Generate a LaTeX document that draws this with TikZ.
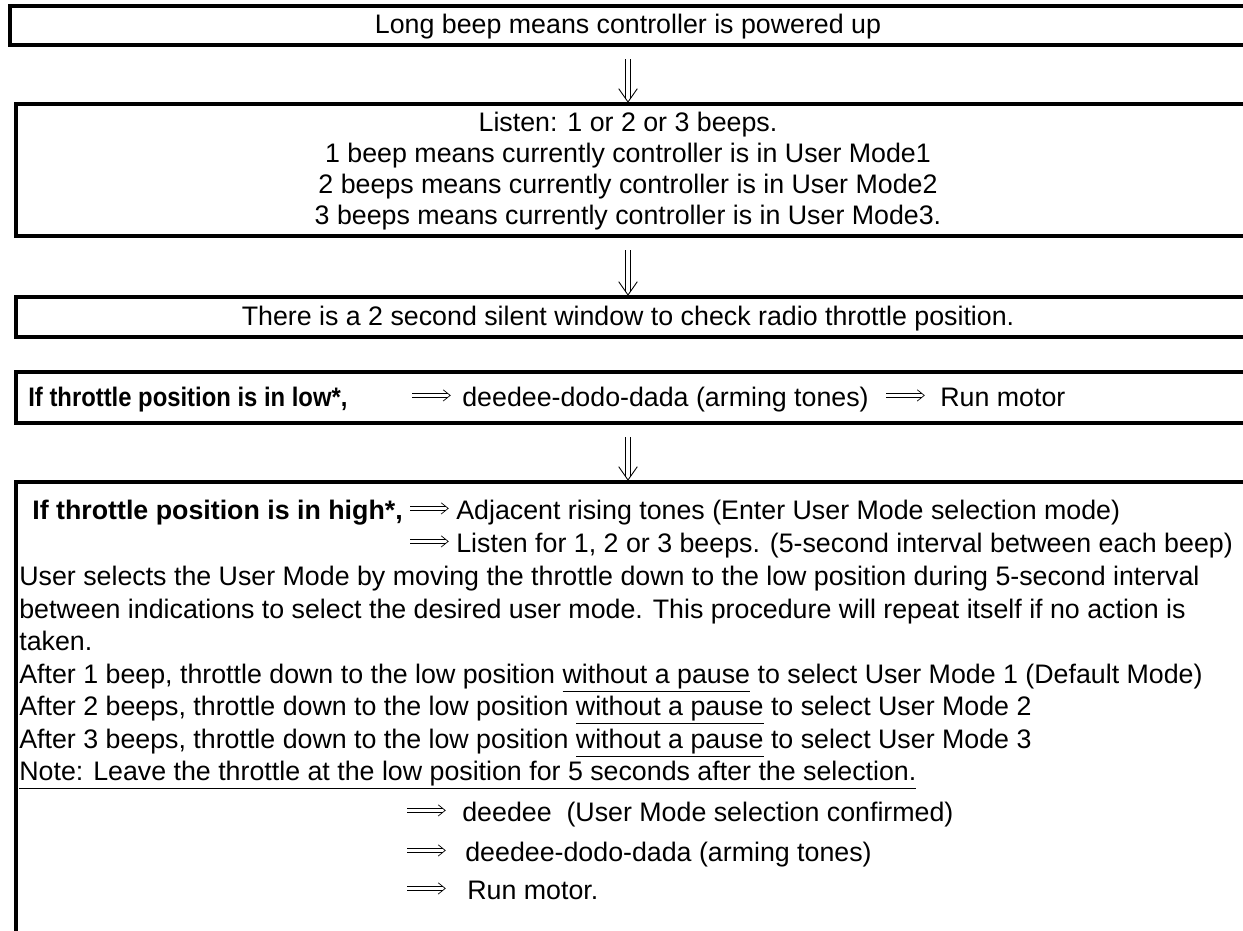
\documentclass[tikz,border=0pt]{standalone}
\usepackage{fontspec,graphicx}
\setmainfont{Liberation Sans}
\usetikzlibrary{arrows.meta,positioning,decorations.markings}
\newcommand{\thenarr}{\tikz[baseline=-0.75ex]{\draw[line width=0.4pt,double,double distance=1.6pt,shorten >=1.5pt](0,0)--(21.5pt,0);
  \draw[line width=0.4pt](17.5pt,3.2pt)--(21.5pt,0)--(17.5pt,-3.2pt);}}

\begin{document}
\begin{tikzpicture}[x=0.02cm,y=-0.02cm,
  box/.style={draw,line width=2.3pt,anchor=north west,minimum width=26cm,inner sep=0pt},
  txt/.style={font=\fontsize{15.24}{18.5}\selectfont,inner sep=0pt,anchor=base west},
  ctxt/.style={txt,anchor=base},
  down/.style={double,double distance=2.2pt,line width=0.45pt,shorten <=7pt,shorten >=2.2pt},
  downhead/.style={decoration={markings,mark=at position 1 with {\draw[line width=0.5pt] (-7.6pt,5.3pt) -- (0,0) -- (-7.6pt,-5.3pt);}},decorate}]
  \clip (0,0) rectangle (1243,930);
  % Boxes
  \node[box,minimum height=0.78cm] (powerup) at (8,4) {};
  \node[box,minimum height=2.64cm] (listen) at (14,102) {};
  \node[box,minimum height=0.8cm] (silent) at (14,295) {};
  \node[box,minimum height=1.02cm] (lowthr) at (14,370) {};
  \node[box,minimum height=10.4cm] (highthr) at (14,480) {};
  % Power up
  \node[ctxt] (powtxt) at (628,33) {Long beep means controller is powered up};
  % User mode beeps
  \node[ctxt] (lis1) at (628,131) {Listen: 1 or 2 or 3 beeps.};
  \node[ctxt] (lis2) at (628,162) {1 beep means currently controller is in User Mode1};
  \node[ctxt] (lis3) at (628,193) {2 beeps means currently controller is in User Mode2};
  \node[ctxt] (lis4) at (628,224) {3 beeps means currently controller is in User Mode3.};
  % Silent window
  \node[ctxt] (siltxt) at (628,325) {There is a 2 second silent window to check radio throttle position.};
  % Throttle low
  \node[txt] (lowif) at (28,406) {\scalebox{0.89}[1]{\textbf{If throttle position is in low*,}}};
  \node[txt] (lowa1) at (410,406) {\thenarr};
  \node[txt] (lowarm) at (462,406) {deedee-dodo-dada (arming tones)};
  \node[txt] (lowa2) at (884,406) {\thenarr};
  \node[txt] (lowrun) at (940,406) {Run motor};
  % Throttle high
  \node[txt] (hiif) at (32,519) {\textbf{If throttle position is in high*,}};
  \node[txt] (hia1) at (408,519) {\thenarr};
  \node[txt] (hiris) at (456,519) {Adjacent rising tones (Enter User Mode selection mode)};
  \node[txt] (hia2) at (408,552) {\thenarr};
  \node[txt] (hilis) at (456,552) {Listen for 1, 2 or 3 beeps. (5-second interval between each beep)};
  \node[txt] (hisel1) at (19,585) {User selects the User Mode by moving the throttle down to the low position during 5-second interval};
  \node[txt] (hisel2) at (19,618) {between indications to select the desired user mode. This procedure will repeat itself if no action is};
  \node[txt] (hisel3) at (19,650) {taken.};
  \node[txt] (hib1) at (19,683) {After 1 beep, throttle down to the low position \underline{without a pause} to select User Mode 1 (Default Mode)};
  \node[txt] (hib2) at (19,715) {After 2 beeps, throttle down to the low position \underline{without a pause} to select User Mode 2};
  \node[txt] (hib3) at (19,748) {After 3 beeps, throttle down to the low position \underline{without a pause} to select User Mode 3};
  \node[txt] (hinote) at (19,780) {\underline{Note: Leave the throttle at the low position for 5 seconds after the selection.}};
  \node[txt] (hia3) at (405,821) {\thenarr};
  \node[txt] (hiconf) at (462,821) {deedee~ (User Mode selection confirmed)};
  \node[txt] (hia4) at (405,861) {\thenarr};
  \node[txt] (hiarm) at (465,861) {deedee-dodo-dada (arming tones)};
  \node[txt] (hia5) at (405,899) {\thenarr};
  \node[txt] (hirun) at (467,899) {Run motor.};
  % Down arrows
  \draw[down] (powtxt |- powerup.south) -- (powtxt |- listen.north);
  \path[downhead] (powtxt |- powerup.south) -- (powtxt |- listen.north);
  \draw[down] (powtxt |- listen.south) -- (powtxt |- silent.north);
  \path[downhead] (powtxt |- listen.south) -- (powtxt |- silent.north);
  \draw[down] (powtxt |- lowthr.south) -- (powtxt |- highthr.north);
  \path[downhead] (powtxt |- lowthr.south) -- (powtxt |- highthr.north);
\end{tikzpicture}
\end{document}
